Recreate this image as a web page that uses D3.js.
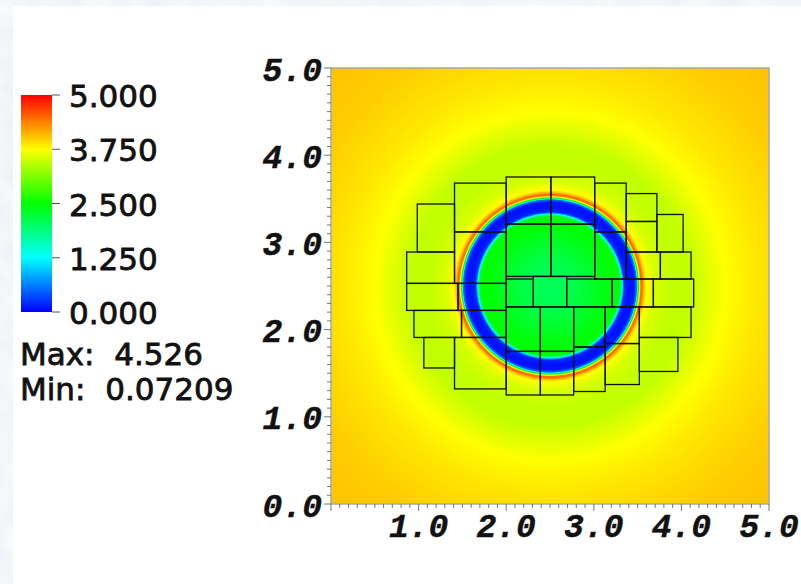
<!DOCTYPE html>
<html><head><meta charset="utf-8">
<script src="https://cdn.jsdelivr.net/npm/d3@7"></script>
<style>html,body{margin:0;padding:0;background:#fff;overflow:hidden}</style>
</head><body>
<script>
// ---- data ----
const legendTicks = [0, 1.25, 2.5, 3.75, 5];
const legendLabels = ["0.000", "1.250", "2.500", "3.750", "5.000"];
const colorStops = ["#0000ff", "#00ffff", "#00ff00", "#ffff00", "#ff0000"];
const statMax = "4.526";
const statMin = "0.07209";
const axisTicks = [0, 1, 2, 3, 4, 5];
const yTickLabels = ["0.0", "1.0", "2.0", "3.0", "4.0", "5.0"];
const xTickLabels = ["1.0", "2.0", "3.0", "4.0", "5.0"];
const center = [2.5, 2.5];
// radial profile of the field
const profileRadius = [0, 0.3, 0.6, 0.74, 0.8, 0.82, 0.835, 0.85, 0.9, 0.96, 0.99, 1.005, 1.02, 1.036, 1.05, 1.07, 1.1, 1.2, 1.4, 1.6, 1.8, 2.0, 2.3, 2.6, 3.0, 3.6];
const profileValue  = [2.05, 2.15, 2.4, 2.5, 2.4, 1.6, 0.7, 0.2, 0.08, 0.1, 0.6, 2.0, 3.5, 4.4, 4.5, 4.1, 3.75, 3.55, 3.45, 3.45, 3.6, 3.75, 3.85, 3.92, 4.0, 4.05];
// AMR patches [x0, x1, y0, y1]
const patches = [
  [1.41, 2.00, 3.12, 3.68], [2.00, 2.51, 3.21, 3.75], [2.51, 3.01, 3.21, 3.75], [3.01, 3.37, 3.12, 3.68],
  [3.37, 3.72, 3.24, 3.56], [3.72, 4.02, 2.89, 3.32], [0.985, 1.41, 2.89, 3.44], [0.864, 1.41, 2.53, 2.89],
  [1.41, 2.00, 2.53, 3.12], [2.00, 2.51, 2.61, 3.21], [2.51, 3.01, 2.61, 3.21], [3.37, 3.72, 2.89, 3.24],
  [3.01, 3.37, 2.58, 3.12], [3.37, 3.76, 2.58, 2.89], [3.76, 4.11, 2.58, 2.89],
  [2.00, 2.31, 2.26, 2.58], [2.31, 2.69, 2.26, 2.61], [2.69, 3.21, 2.26, 2.58], [3.21, 3.68, 2.26, 2.58], [3.68, 4.14, 2.26, 2.58],
  [0.864, 1.45, 2.22, 2.53], [1.45, 2.00, 2.22, 2.53], [0.947, 1.49, 1.91, 2.22], [1.49, 2.00, 1.91, 2.22],
  [2.00, 2.39, 1.75, 2.26], [2.39, 2.77, 1.75, 2.26], [2.77, 3.13, 1.80, 2.26], [3.13, 3.52, 1.84, 2.26], [3.52, 4.11, 1.91, 2.26],
  [1.06, 1.41, 1.56, 1.91], [1.41, 2.00, 1.32, 1.91], [2.00, 2.39, 1.25, 1.75], [2.39, 2.77, 1.25, 1.75],
  [2.77, 3.13, 1.29, 1.80], [3.13, 3.52, 1.37, 1.84], [3.52, 3.96, 1.52, 1.91]
];

// ---- layout ----
const W = 801, H = 584;
const x = d3.scaleLinear().domain([0, 5]).range([331, 769]);
const y = d3.scaleLinear().domain([0, 5]).range([504, 68]);
const color = d3.scaleLinear().domain(legendTicks).range(colorStops).clamp(true);
const profile = d3.scaleLinear().domain(profileRadius).range(profileValue).clamp(true);

const svg = d3.select("body").append("svg").attr("width", W).attr("height", H);
const defs = svg.append("defs");
const f = defs.append("filter").attr("id", "marble").attr("x", 0).attr("y", 0).attr("width", 1).attr("height", 1);
f.append("feTurbulence").attr("type", "fractalNoise").attr("baseFrequency", "0.035").attr("numOctaves", 3).attr("seed", 4);
f.append("feColorMatrix").attr("type", "matrix").attr("values",
  "0.16 0 0 0 0.815  0.12 0 0 0 0.865  0.06 0 0 0 0.925  0 0 0 0 1");
svg.append("rect").attr("width", W).attr("height", H).attr("fill", "#e4ecf5").attr("filter", "url(#marble)");
svg.append("rect").attr("x", 13).attr("y", 6).attr("width", W - 13).attr("height", H - 6).attr("fill", "#ffffff");

// ---- field raster ----
const pw = Math.round(x(5) - x(0)), ph = Math.round(y(0) - y(5));
const cv = document.createElement("canvas");
cv.width = pw; cv.height = ph;
const ctx = cv.getContext("2d");
const img = ctx.createImageData(pw, ph);
for (let j = 0; j < ph; j++) {
  const dy = y.invert(y(5) + j + 0.5);
  for (let i = 0; i < pw; i++) {
    const dx = x.invert(x(0) + i + 0.5);
    const r = Math.hypot(dx - center[0], dy - center[1]);
    const c = d3.rgb(color(profile(r)));
    const k = (j * pw + i) * 4;
    img.data[k] = c.r; img.data[k + 1] = c.g; img.data[k + 2] = c.b; img.data[k + 3] = 255;
  }
}
ctx.putImageData(img, 0, 0);
svg.append("image").attr("x", x(0)).attr("y", y(5)).attr("width", pw).attr("height", ph)
  .attr("preserveAspectRatio", "none").attr("href", cv.toDataURL());

// ---- patches ----
svg.append("g").selectAll("rect").data(patches).join("rect")
  .attr("x", d => x(d[0])).attr("y", d => y(d[3]))
  .attr("width", d => x(d[1]) - x(d[0])).attr("height", d => y(d[2]) - y(d[3]))
  .attr("fill", "none").attr("stroke", "#111").attr("stroke-width", 1.3);

// ---- frame & ticks ----
svg.append("rect").attr("x", x(0)).attr("y", y(5)).attr("width", x(5) - x(0)).attr("height", y(0) - y(5))
  .attr("fill", "none").attr("stroke", "#a8a8a8").attr("stroke-width", 1.5);
const minor = d3.range(0, 50.5).map(i => i / 10);
const tg = svg.append("g").attr("stroke", "#777").attr("stroke-width", 1);
tg.selectAll(".yt").data(minor).join("line")
  .attr("x1", x(0)).attr("x2", (d, i) => x(0) - (i % 10 === 0 ? 7 : 4))
  .attr("y1", d => y(d)).attr("y2", d => y(d));
tg.selectAll(".xt").data(minor).join("line")
  .attr("y1", y(0)).attr("y2", (d, i) => y(0) + (i % 10 === 0 ? 7 : 4))
  .attr("x1", d => x(d)).attr("x2", d => x(d));

const axFont = "'Liberation Mono', 'Courier New', monospace";
svg.append("g").selectAll("text").data(axisTicks).join("text")
  .attr("x", 322).attr("y", d => y(d) + 12.5).attr("text-anchor", "end")
  .attr("font-family", axFont).attr("font-weight", "bold").attr("font-style", "italic").attr("font-size", 33)
  .attr("fill", "#111").attr("stroke", "#111").attr("stroke-width", 0.4).text((d, i) => yTickLabels[i]);
svg.append("g").selectAll("text").data(axisTicks.slice(1)).join("text")
  .attr("x", d => x(d)).attr("y", 537).attr("text-anchor", "middle")
  .attr("font-family", axFont).attr("font-weight", "bold").attr("font-style", "italic").attr("font-size", 33)
  .attr("fill", "#111").attr("stroke", "#111").attr("stroke-width", 0.4).text((d, i) => xTickLabels[i]);

// ---- legend ----
const ly = d3.scaleLinear().domain([0, 5]).range([312, 95]);
const grad = defs.append("linearGradient").attr("id", "lg").attr("x1", 0).attr("y1", 1).attr("x2", 0).attr("y2", 0);
legendTicks.forEach((t, i) => grad.append("stop").attr("offset", t / 5).attr("stop-color", colorStops[i]));
svg.append("rect").attr("x", 21).attr("y", ly(5)).attr("width", 31).attr("height", ly(0) - ly(5)).attr("fill", "url(#lg)");
svg.append("g").selectAll("line").data(legendTicks).join("line")
  .attr("x1", 52).attr("x2", 60).attr("y1", d => ly(d)).attr("y2", d => ly(d))
  .attr("stroke", "#555").attr("stroke-width", 1);
const lgFont = "'DejaVu Sans', Verdana, sans-serif";
const lg = svg.append("g").attr("font-family", lgFont).attr("font-size", 31)
  .attr("fill", "#111").attr("stroke", "#111").attr("stroke-width", 0.8);
lg.selectAll("text").data(legendTicks).join("text")
  .attr("x", 69).attr("y", d => ly(d) + 12).text((d, i) => legendLabels[i]);
lg.append("text").attr("x", 20).attr("y", 365)
  .attr("xml:space", "preserve").style("white-space", "pre").text("Max:  " + statMax);
lg.append("text").attr("x", 20).attr("y", 400)
  .attr("xml:space", "preserve").style("white-space", "pre").text("Min:  " + statMin);
</script>
</body></html>
